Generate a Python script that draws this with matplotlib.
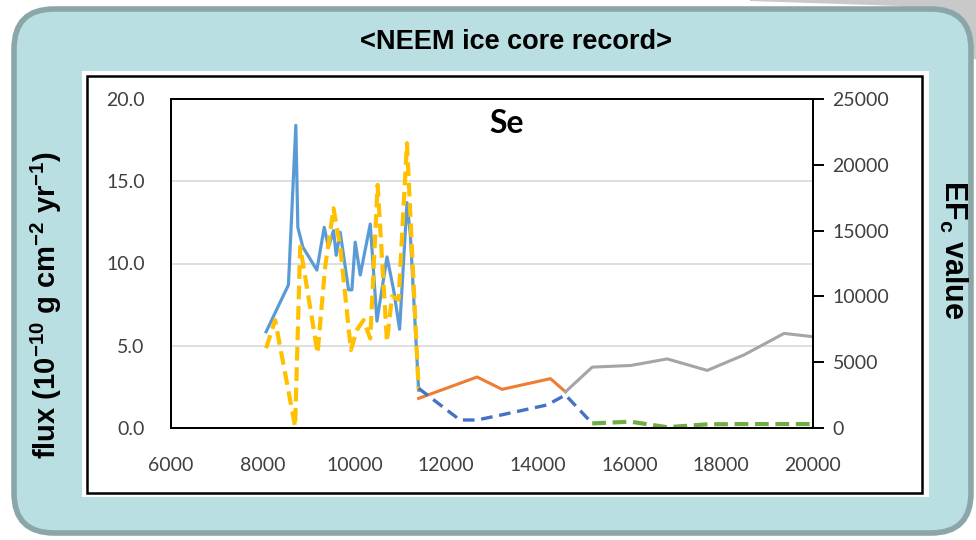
import matplotlib
matplotlib.use("Agg")
import matplotlib.pyplot as plt
from matplotlib.patches import FancyBboxPatch, Rectangle, Polygon
from matplotlib.ticker import FormatStrFormatter

plt.rcParams["mathtext.fontset"] = "custom"
plt.rcParams["mathtext.rm"] = "Liberation Sans:bold"
plt.rcParams["mathtext.bf"] = "Liberation Sans:bold"
plt.rcParams["mathtext.default"] = "bf"

# flux (left axis), solid lines
blue_x = [8074, 8561, 8722, 8766, 8875, 9181, 9341, 9434, 9544, 9603, 9690, 9872,
          9945, 10017, 10127, 10345, 10491, 10710, 10854, 10985, 11146, 11218, 11400]
blue_y = [5.85, 8.7, 18.4, 12.2, 11.0, 9.6, 12.2, 11.0, 12.0, 10.5, 11.9, 8.4,
          8.4, 11.3, 9.3, 12.4, 6.5, 10.4, 8.4, 6.0, 13.7, 11.8, 2.3]
orange_x = [11400, 12675, 13220, 14275, 14603]
orange_y = [1.8, 3.1, 2.35, 3.0, 2.2]
gray_x = [14603, 15185, 16022, 16822, 17695, 18500, 19370, 20000]
gray_y = [2.2, 3.7, 3.8, 4.2, 3.5, 4.45, 5.75, 5.55]

# EFc value (right axis), dashed lines
yellow_x = [8074, 8271, 8707, 8817, 8926, 9196, 9362, 9544, 9690, 9923, 10054,
            10200, 10345, 10506, 10710, 10819, 10964, 11146, 11400]
yellow_y = [6060, 8200, 100, 13780, 11500, 5680, 12250, 16690, 13750, 5930, 7450,
            8200, 6800, 18470, 6560, 10000, 9750, 21640, 2880]
bdash_x = [11400, 12300, 12675, 13200, 14200, 14603, 15185]
bdash_y = [3015, 610, 610, 990, 1750, 2510, 350]
green_x = [15185, 16022, 16822, 17695, 18500, 19370, 20000]
green_y = [350, 480, 60, 280, 300, 300, 300]

W, H = 976, 540
fig = plt.figure(figsize=(W / 100, H / 100), dpi=100, facecolor="white")

# background drawn in pixel coordinates
bg = fig.add_axes([0, 0, 1, 1], zorder=0)
bg.set_xlim(0, W)
bg.set_ylim(H, 0)
bg.axis("off")
bg.add_patch(Polygon([(750, 0), (976, 0), (976, 60), (900, 6), (750, 1)],
                     closed=True, facecolor="#C9C9C9", edgecolor="none"))
bg.add_patch(FancyBboxPatch((14, 9), 957, 524, boxstyle="round,pad=0,rounding_size=40",
                            facecolor="#B9DFE2", edgecolor="#8AA6A8", linewidth=4))
bg.add_patch(Rectangle((82, 71), 847, 426, facecolor="white", edgecolor="none"))
bg.add_patch(Rectangle((87, 76), 835, 417, facecolor="none", edgecolor="black", linewidth=1.8))
bg.text(516, 42, "<NEEM ice core record>", ha="center", va="center", fontsize=19.5,
        fontweight="bold", family="Liberation Sans")
bg.text(46, 305, "flux (10$^{-10}$ g cm$^{-2}$ yr$^{-1}$)", ha="center", va="center",
        rotation=90, fontsize=21, fontweight="bold", family="Liberation Sans")
bg.text(953, 250, "EF$_{c}$ value", ha="center", va="center",
        rotation=-90, fontsize=22, fontweight="bold", family="Liberation Sans")

ax = fig.add_axes([171 / W, 1 - 428 / H, (813 - 171) / W, (428 - 99) / H], zorder=2)
ax.set_facecolor("none")
ax.plot(blue_x, blue_y, color="#5B9BD5", lw=2.3, solid_joinstyle="round")
ax.plot(orange_x, orange_y, color="#ED7D31", lw=2.2, solid_joinstyle="round")
ax.plot(gray_x, gray_y, color="#A5A5A5", lw=2.2, solid_joinstyle="round")
ax.set_xlim(6000, 20000)
ax.set_ylim(0, 20)
ax.set_xticks(range(6000, 20001, 2000))
ax.set_yticks([0, 5, 10, 15, 20])
ax.yaxis.set_major_formatter(FormatStrFormatter("%.1f"))
ax.grid(axis="y", color="#D9D9D9", lw=1.2)
ax.set_axisbelow(True)
ax.tick_params(axis="both", length=0, labelsize=14, labelcolor="#404040")
ax.tick_params(axis="x", pad=21)
ax.tick_params(axis="y", pad=19)
for lab in ax.get_xticklabels() + ax.get_yticklabels():
    lab.set_family("Lato")
for s in ax.spines.values():
    s.set_color("black")
    s.set_linewidth(1.4)

ax2 = ax.twinx()
ax2.plot(yellow_x, yellow_y, color="#FFC000", lw=3, dashes=(3.3, 1.6))
ax2.plot(bdash_x, bdash_y, color="#4472C4", lw=2.4, dashes=(3.5, 2))
ax2.plot(green_x, green_y, color="#70AD47", lw=3, dashes=(3.3, 1.6))
ax2.set_ylim(0, 25000)
ax2.set_yticks(range(0, 25001, 5000))
ax2.tick_params(axis="y", length=8, width=1.4, labelsize=14, labelcolor="#404040", pad=6)
for lab in ax2.get_yticklabels():
    lab.set_family("Lato")
for s in ax2.spines.values():
    s.set_linewidth(1.4)

ax.text(0.523, 0.925, "Se", transform=ax.transAxes, ha="center", va="center",
        fontsize=23, fontweight="bold", family="Lato")

fig.savefig("out.png", dpi=100)
